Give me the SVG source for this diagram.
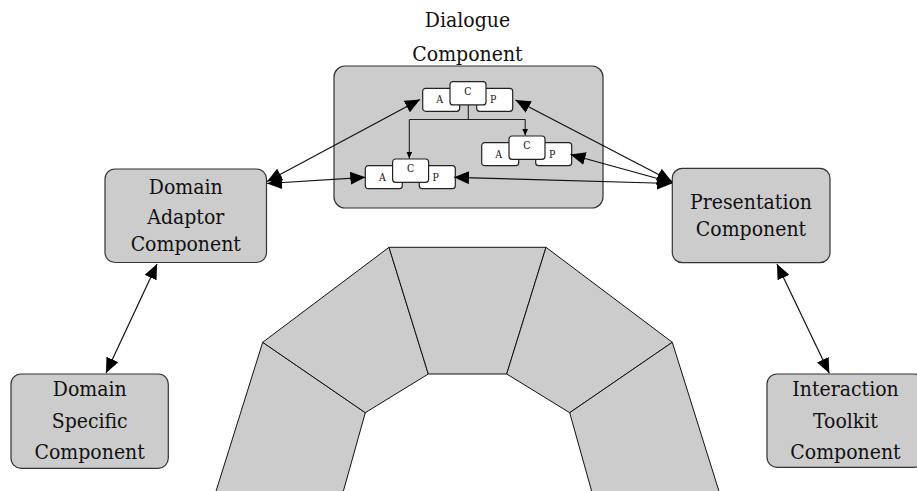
<svg xmlns="http://www.w3.org/2000/svg" width="917" height="491" viewBox="0 0 917 491">
  <style>
    .box { fill: #cccccc; stroke: #333333; stroke-width: 1.2; }
    .mini { fill: #ffffff; stroke: #222222; stroke-width: 1.2; }
    .seg { fill: #cccccc; stroke: #111111; stroke-width: 1; stroke-linejoin: round; }
    .lbl { font-family: 'DejaVu Serif', 'Liberation Serif', serif; font-stretch: condensed; font-size: 21px; fill: #111111; text-anchor: middle; }
    .sm { font-family: 'DejaVu Serif', 'Liberation Serif', serif; font-stretch: condensed; font-size: 10.5px; fill: #111111; text-anchor: middle; }
    .link { fill: none; stroke: #111111; stroke-width: 1.2; }
    .tree { fill: none; stroke: #222222; stroke-width: 1.1; }
  </style>
  <defs>
    <marker id="big" markerUnits="userSpaceOnUse" markerWidth="15" markerHeight="13" viewBox="0 0 15 13" refX="15" refY="6.5" orient="auto-start-reverse">
      <path d="M0,0 L15,6.5 L0,13 z" fill="#000000"/>
    </marker>
    <marker id="small" markerUnits="userSpaceOnUse" markerWidth="7" markerHeight="6" viewBox="0 0 7 6" refX="7" refY="3" orient="auto">
      <path d="M0,0 L7,3 L0,6 z" fill="#000000"/>
    </marker>
    <!-- one A-C-P triad, origin at the top-left of the A box -->
    <g id="acp">
      <rect class="mini" x="0" y="0" width="37" height="23" rx="3"/>
      <rect class="mini" x="54" y="0" width="36" height="23" rx="3"/>
      <rect class="mini" x="27.3" y="-6.7" width="36" height="23.3" rx="3"/>
      <text class="sm" x="17" y="15">A</text>
      <text class="sm" x="45.3" y="6.7">C</text>
      <text class="sm" x="70.5" y="15">P</text>
    </g>
  </defs>

  <rect width="917" height="491" fill="#ffffff"/>

  <!-- arch -->
  <g id="arch">
    <polygon class="seg" points="214.5,496 262.7,342.3 365.3,412.7 342,496"/>
    <polygon class="seg" points="262.7,342.3 389,247.3 428.3,374 365.3,412.7"/>
    <polygon class="seg" points="389,247.3 546,247.3 506.7,374 428.3,374"/>
    <polygon class="seg" points="546,247.3 672.3,342.3 569.7,412.7 506.7,374"/>
    <polygon class="seg" points="672.3,342.3 720.5,496 593,496 569.7,412.7"/>
  </g>

  <!-- dialogue component -->
  <g id="dialogue">
    <text class="lbl" x="467.5" y="27">Dialogue</text>
    <text class="lbl" x="467.5" y="61">Component</text>
    <rect class="box" x="334" y="66" width="269" height="142" rx="11"/>
  </g>

  <g id="domain-adaptor">
    <rect class="box" x="105" y="169" width="161.5" height="93.5" rx="10"/>
    <text class="lbl" x="185.8" y="194">Domain</text>
    <text class="lbl" x="185.8" y="224">Adaptor</text>
    <text class="lbl" x="185.8" y="251">Component</text>
  </g>

  <g id="presentation">
    <rect class="box" x="672.3" y="168.3" width="157.7" height="94.4" rx="10"/>
    <text class="lbl" x="751" y="209">Presentation</text>
    <text class="lbl" x="751" y="236">Component</text>
  </g>

  <g id="domain-specific">
    <rect class="box" x="11" y="374" width="157.3" height="94.3" rx="10"/>
    <text class="lbl" x="89.7" y="396">Domain</text>
    <text class="lbl" x="89.7" y="428">Specific</text>
    <text class="lbl" x="89.7" y="459">Component</text>
  </g>

  <g id="interaction-toolkit">
    <rect class="box" x="767" y="374" width="157" height="93.3" rx="10"/>
    <text class="lbl" x="845.5" y="396">Interaction</text>
    <text class="lbl" x="845.5" y="428">Toolkit</text>
    <text class="lbl" x="845.5" y="459">Component</text>
  </g>

  <!-- dialogue sub-controllers -->
  <g id="acp-top"><use href="#acp" x="422.7" y="88.3"/></g>
  <g id="acp-right"><use href="#acp" x="481.7" y="142.7"/></g>
  <g id="acp-left"><use href="#acp" x="365.3" y="165.7"/></g>

  <g id="connectors">
    <!-- hierarchy inside the dialogue component -->
    <path class="tree" d="M468.3,105 V119.5 M409.3,119.5 H525.2"/>
    <path class="tree" d="M409.3,119.5 V158.5" marker-end="url(#small)"/>
    <path class="tree" d="M525.2,119.5 V135.5" marker-end="url(#small)"/>

    <!-- two-way links between components -->
    <line class="link" x1="267" y1="181.5" x2="420" y2="99.5" marker-start="url(#big)" marker-end="url(#big)"/>
    <line class="link" x1="267" y1="183.5" x2="365.3" y2="177.3" marker-start="url(#big)" marker-end="url(#big)"/>
    <line class="link" x1="454" y1="177.3" x2="672" y2="183.5" marker-start="url(#big)" marker-end="url(#big)"/>
    <line class="link" x1="570.5" y1="154.5" x2="672" y2="182.5" marker-start="url(#big)" marker-end="url(#big)"/>
    <line class="link" x1="515.5" y1="100" x2="672" y2="181.5" marker-start="url(#big)" marker-end="url(#big)"/>
    <line class="link" x1="157" y1="264" x2="106" y2="373" marker-start="url(#big)" marker-end="url(#big)"/>
    <line class="link" x1="777" y1="264" x2="829.3" y2="373.3" marker-start="url(#big)" marker-end="url(#big)"/>
  </g>
</svg>
